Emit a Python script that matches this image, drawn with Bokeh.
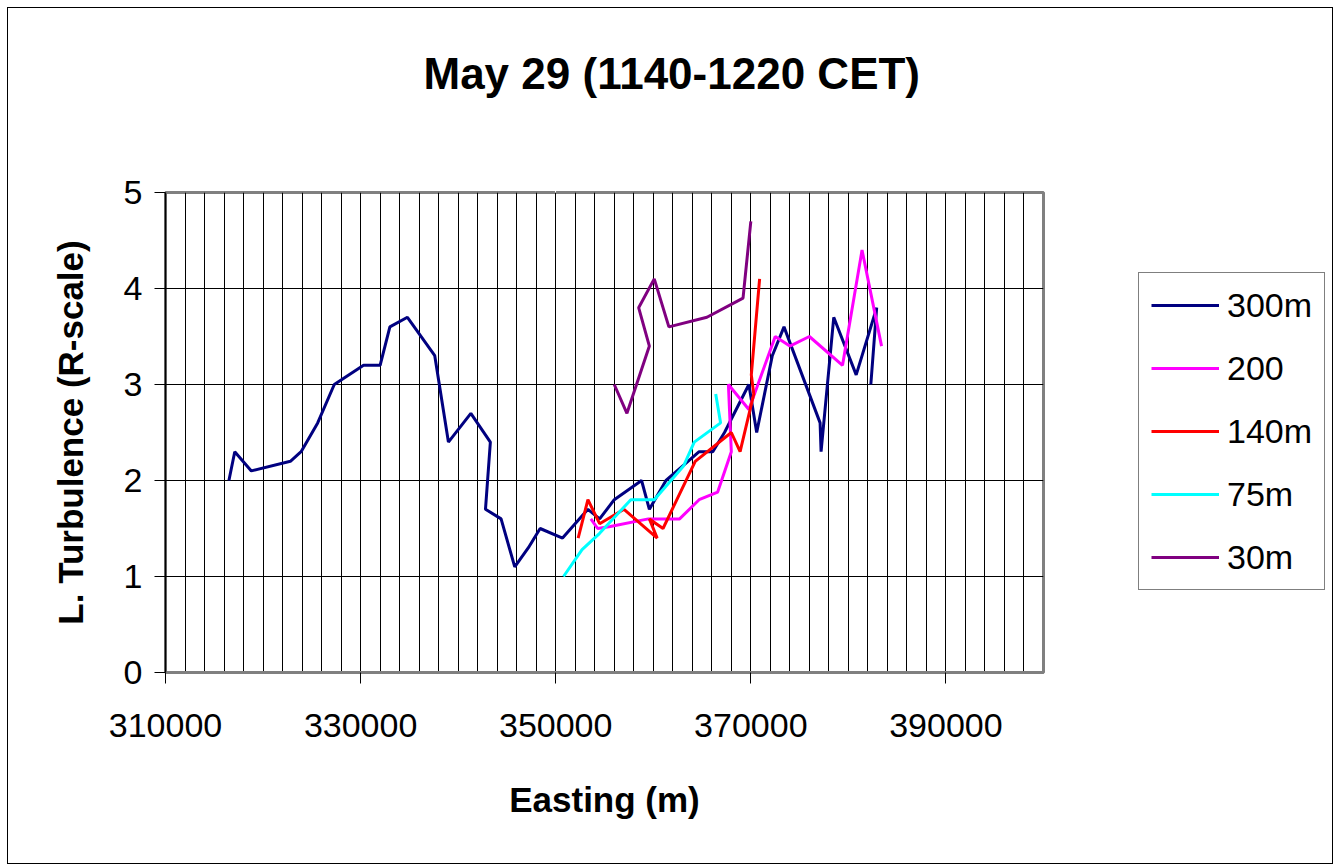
from bokeh.plotting import figure
from bokeh.models import (Range1d, FixedTicker, BasicTickFormatter, Legend, LegendItem,
                          LinearAxis, Title)
from bokeh.layouts import row
from bokeh.embed import file_html
from bokeh.resources import INLINE

# ---- data ----
e300 = [316500, 317100, 318800, 322800, 323900, 325600, 327300, 330300, 332000, 333000,
        334800, 337600, 339000, 341300, 343300, 342800, 344400, 345800, 347200, 348400,
        350700, 353300, 354500, 356000, 358800, 359600, 361300, 363000, 364700, 366100,
        367300, 369800, 370600, 372200, 373400, 377100, 377200, 378500, 380800, 382900, 382300]
t300 = [2.0, 2.3, 2.1, 2.2, 2.3, 2.6, 3.0, 3.2, 3.2, 3.6,
        3.7, 3.3, 2.4, 2.7, 2.4, 1.7, 1.6, 1.1, 1.3, 1.5,
        1.4, 1.7, 1.6, 1.8, 2.0, 1.7, 2.0, 2.15, 2.3, 2.3,
        2.5, 3.0, 2.5, 3.3, 3.6, 2.6, 2.3, 3.7, 3.1, 3.8, 3.0]

e200 = [353600, 354300, 355600, 359500, 362700, 364700, 366600, 368000, 367700, 369800,
        372500, 374000, 376000, 379400, 381400, 383400]
t200 = [1.6, 1.5, 1.52, 1.6, 1.6, 1.8, 1.88, 2.3, 3.0, 2.74,
        3.5, 3.4, 3.5, 3.2, 4.4, 3.4]

e140 = [352300, 353300, 354500, 357000, 360400, 359600, 361000, 364300, 368000, 368900,
        370300, 370050, 370900]
t140 = [1.4, 1.8, 1.55, 1.7, 1.4, 1.6, 1.5, 2.2, 2.5, 2.3,
        2.9, 3.1, 4.1]

e75 = [350800, 352700, 354500, 357700, 360100, 363100, 364200, 366900, 366400]
t75 = [1.0, 1.28, 1.45, 1.8, 1.8, 2.15, 2.4, 2.6, 2.9]

e30 = [356000, 357300, 359600, 358500, 360100, 361600, 365500, 369200, 370000]
t30 = [3.0, 2.7, 3.4, 3.8, 4.1, 3.6, 3.7, 3.9, 4.7]

series_labels = ["300m", "200", "140m", "75m", "30m"]
series_colors = ["#000080", "#FF00FF", "#FF0000", "#00FFFF", "#800080"]

x_ticks = [310000, 330000, 350000, 370000, 390000]
x_grid = list(range(310000, 400001, 2000))
y_ticks = [0, 1, 2, 3, 4, 5]

title_text = "May 29 (1140-1220 CET)"
x_label = "Easting (m)"
y_label = "L. Turbulence (R-scale)"

FONT = "Liberation Sans"

# ---------------- main chart ----------------
p = figure(width=1040, height=855, output_backend="svg", toolbar_location=None,
           title=None,
           x_range=Range1d(310000, 400000), y_range=Range1d(0, 5),
           min_border_left=157, min_border_top=184, min_border_right=5, min_border_bottom=191)

p.background_fill_color = "white"
p.border_fill_color = "white"
p.outline_line_color = "#808080"
p.outline_line_width = 3

xax = p.below[0]
yax = p.left[0]

# grids
p.xgrid.ticker = FixedTicker(ticks=x_grid)
p.xgrid.grid_line_color = "#000000"
p.xgrid.grid_line_width = 1
p.ygrid.ticker = FixedTicker(ticks=y_ticks)
p.ygrid.grid_line_color = "#000000"
p.ygrid.grid_line_width = 1

# axes
xax.ticker = FixedTicker(ticks=x_ticks)
xax.formatter = BasicTickFormatter(use_scientific=False)
yax.ticker = FixedTicker(ticks=y_ticks)
for ax in (xax, yax):
    ax.major_label_text_font = FONT
    ax.major_label_text_font_size = "34px"
    ax.major_label_text_color = "black"
    ax.axis_label_text_font = FONT
    ax.axis_label_text_font_size = "35px"
    ax.axis_label_text_font_style = "bold"
    ax.axis_label_text_color = "black"
    ax.major_tick_out = 11
    ax.major_tick_in = 0
    ax.minor_tick_out = 0
    ax.minor_tick_in = 0
    ax.major_tick_line_color = "black"
    ax.axis_line_color = "black"
    ax.axis_line_width = 1.5

xax.axis_label = x_label
yax.axis_label = y_label
xax.major_label_standoff = 30
xax.axis_label_standoff = 40
yax.major_label_standoff = 12
yax.axis_label_standoff = 31
xax.axis_line_color = "#808080"
xax.axis_line_width = 3

# blank spacer between frame and title (one white tick, empty label), then the title
spacer = LinearAxis(ticker=FixedTicker(ticks=[x_ticks[2]]), axis_line_color=None,
                    major_tick_out=90, major_tick_in=0, minor_tick_out=0, minor_tick_in=0,
                    major_tick_line_color="white", minor_tick_line_color=None,
                    major_label_overrides={x_ticks[2]: ""},
                    major_label_standoff=0, axis_label=None)
p.add_layout(spacer, "above")
ttl = Title(text=title_text, align="left", offset=258, standoff=10,
            text_font=FONT, text_font_size="44px", text_font_style="bold", text_color="black")
p.add_layout(ttl, "above")

# series
xs_all = [e300, e200, e140, e75, e30]
ys_all = [t300, t200, t140, t75, t30]
for xs, ys, col in zip(xs_all, ys_all, series_colors):
    p.line(xs, ys, line_color=col, line_width=3)

# ---------------- legend panel (frame aligned with the main frame) ----------------
pl = figure(width=284, height=855, output_backend="svg", toolbar_location=None,
            title=None, x_axis_type=None, y_axis_type=None,
            x_range=Range1d(0, 1), y_range=Range1d(0, 1),
            min_border=0, min_border_left=0, min_border_right=0,
            min_border_top=0, min_border_bottom=0)
pl.grid.visible = False
pl.outline_line_color = None
pl.background_fill_color = "white"
pl.border_fill_color = "white"

items = []
for xs, ys, lab, col in zip(xs_all, ys_all, series_labels, series_colors):
    # same series, outside this panel's ranges: only its legend swatch shows
    r = pl.line(xs, ys, line_color=col, line_width=3)
    items.append(LegendItem(label=lab, renderers=[r]))

legend = Legend(items=items, location=(90, 82))
legend.label_text_font = FONT
legend.label_text_font_size = "34px"
legend.label_text_color = "black"
legend.glyph_width = 68
legend.glyph_height = 30
legend.label_height = 40
legend.label_standoff = 8
legend.spacing = 23
legend.padding = 12
legend.margin = 0
legend.border_line_color = "black"
legend.border_line_width = 1.2
legend.background_fill_color = "white"
legend.background_fill_alpha = 1.0
pl.add_layout(legend, "center")

layout = row(p, pl)
layout.styles = {"border": "1.5px solid black", "margin-left": "7px", "margin-top": "7px",
                 "background-color": "white"}

open("out.html", "w").write(file_html(layout, INLINE))
